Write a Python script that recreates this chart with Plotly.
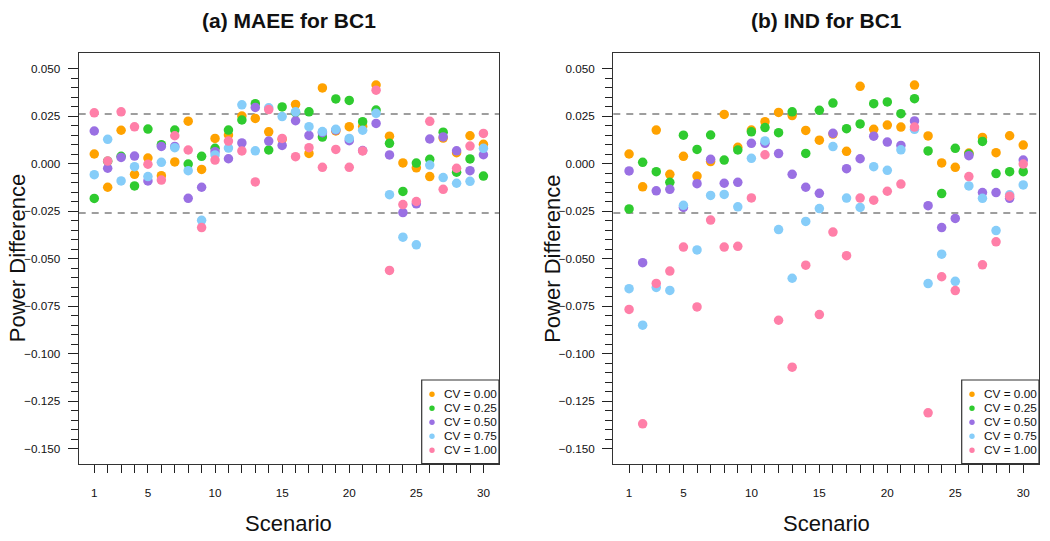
import plotly.graph_objects as go

# ---------------- data ----------------
scenarios = list(range(1, 31))
cv_labels = ["CV = 0.00", "CV = 0.25", "CV = 0.50", "CV = 0.75", "CV = 1.00"]
cv_colors = ["#FFA200", "#2FCB2F", "#9A70E3", "#86CDF9", "#FF7FA8"]

# (a) MAEE for BC1
maee_cv000 = [0.0050, -0.0125, 0.0175, -0.0057, 0.0029, -0.0064, 0.0008, 0.0223, -0.0031, 0.0132,
              0.0150, 0.0250, 0.0237, 0.0167, 0.0127, 0.0311, 0.0053, 0.0398, 0.0171, 0.0194,
              0.0195, 0.0413, 0.0144, 0.0003, -0.0023, -0.0069, 0.0134, 0.0057, 0.0146, 0.0101]
maee_cv025 = [-0.0184, 0.0012, 0.0038, -0.0118, 0.0181, 0.0099, 0.0176, -0.0003, 0.0038, 0.0080,
              0.0176, 0.0229, 0.0315, 0.0071, 0.0298, 0.0268, 0.0272, 0.0139, 0.0340, 0.0332,
              0.0220, 0.0281, 0.0106, -0.0147, 0.0002, 0.0022, 0.0165, -0.0046, 0.0024, -0.0066]
maee_cv050 = [0.0171, -0.0025, 0.0032, 0.0039, -0.0092, 0.0090, 0.0090, -0.0183, -0.0125, 0.0062,
              0.0025, 0.0108, 0.0295, 0.0118, 0.0095, 0.0225, 0.0148, 0.0162, 0.0176, 0.0120,
              0.0068, 0.0211, 0.0045, -0.0258, -0.0212, 0.0129, 0.0140, 0.0067, -0.0038, 0.0046]
maee_cv075 = [-0.0059, 0.0127, -0.0092, -0.0017, -0.0069, 0.0006, 0.0083, -0.0038, -0.0299, 0.0045,
              0.0081, 0.0309, 0.0067, 0.0293, 0.0247, 0.0272, 0.0194, 0.0168, 0.0180, 0.0132,
              0.0175, 0.0264, -0.0164, -0.0388, -0.0428, -0.0008, -0.0074, -0.0104, -0.0094, 0.0080]
maee_cv100 = [0.0267, 0.0013, 0.0272, 0.0193, -0.0004, -0.0087, 0.0146, 0.0071, -0.0337, 0.0018,
              0.0118, 0.0066, -0.0097, 0.0284, 0.0132, 0.0036, 0.0083, -0.0020, 0.0074, -0.0020,
              0.0066, 0.0386, -0.0563, -0.0216, -0.0200, 0.0222, -0.0136, -0.0025, 0.0092, 0.0158]

# (b) IND for BC1
ind_cv000 = [0.0050, -0.0123, 0.0176, -0.0057, 0.0038, -0.0066, 0.0010, 0.0258, 0.0085, 0.0176,
             0.0220, 0.0269, 0.0252, 0.0174, 0.0123, 0.0155, 0.0064, 0.0406, 0.0180, 0.0202,
             0.0192, 0.0413, 0.0145, 0.0003, -0.0020, 0.0055, 0.0137, 0.0057, 0.0146, 0.0097]
ind_cv025 = [-0.0239, 0.0006, -0.0043, -0.0099, 0.0149, 0.0074, 0.0150, 0.0018, 0.0071, 0.0167,
             0.0189, 0.0162, 0.0272, 0.0053, 0.0280, 0.0318, 0.0183, 0.0208, 0.0315, 0.0324,
             0.0262, 0.0341, 0.0066, -0.0158, 0.0080, 0.0050, 0.0116, -0.0053, -0.0043, -0.0043]
ind_cv050 = [-0.0039, -0.0522, -0.0144, -0.0136, -0.0231, -0.0106, 0.0022, -0.0104, -0.0099, 0.0106,
             0.0106, 0.0052, -0.0057, -0.0125, -0.0157, 0.0159, -0.0027, 0.0025, 0.0144, 0.0113,
             0.0095, 0.0224, -0.0222, -0.0337, -0.0289, 0.0041, -0.0153, -0.0153, -0.0183, 0.0018]
ind_cv075 = [-0.0659, -0.0851, -0.0652, -0.0668, -0.0220, -0.0455, -0.0168, -0.0163, -0.0228, 0.0027,
             0.0119, -0.0348, -0.0604, -0.0305, -0.0237, 0.0089, -0.0182, -0.0231, -0.0017, -0.0036,
             0.0072, 0.0180, -0.0632, -0.0477, -0.0620, -0.0118, -0.0183, -0.0353, -0.0165, -0.0113]
ind_cv100 = [-0.0768, -0.1370, -0.0631, -0.0566, -0.0440, -0.0755, -0.0298, -0.0440, -0.0436, -0.0181,
             0.0046, -0.0825, -0.1072, -0.0535, -0.0795, -0.0361, -0.0485, -0.0182, -0.0193, -0.0146,
             -0.0108, 0.0192, -0.1312, -0.0596, -0.0669, -0.0069, -0.0533, -0.0412, -0.0172, -0.0003]

panel_titles = ["(a) MAEE for BC1", "(b) IND for BC1"]
x_title = "Scenario"
y_title = "Power Difference"
ref_line = 0.026
x_labelled = [1, 5, 10, 15, 20, 25, 30]
y_major = [-0.150, -0.125, -0.100, -0.075, -0.050, -0.025, 0.000, 0.025, 0.050]
y_major_text = ["\u22120.150", "\u22120.125", "\u22120.100", "\u22120.075", "\u22120.050",
                "\u22120.025", "0.000", "0.025", "0.050"]
y_minor = [round(-0.150 + 0.005 * i, 3) for i in range(41)]
y_limits = [-0.150, 0.050]
x_limits = [1, 30]

panels = [
    [maee_cv000, maee_cv025, maee_cv050, maee_cv075, maee_cv100],
    [ind_cv000, ind_cv025, ind_cv050, ind_cv075, ind_cv100],
]

# ---------------- layout geometry (pixels) ----------------
W, H = 1050, 541
FONT = "Liberation Sans, Arial, Helvetica, sans-serif"
box_x = [(78.7, 499.0), (613.3, 1039.0)]
box_top, box_bot = 53.3, 463.7


def pxx(p):
    return p / W


def pxy(p):
    return 1 - p / H


def ext(lim):
    d = (lim[1] - lim[0]) * 0.04
    return [lim[0] - d, lim[1] + d]


fig = go.Figure()
for pi, series in enumerate(panels):
    xa = "x" if pi == 0 else "x2"
    ya = "y" if pi == 0 else "y2"
    for label, color, vals in zip(cv_labels, cv_colors, series):
        fig.add_trace(go.Scatter(
            x=scenarios, y=vals, mode="markers", name=label,
            marker=dict(size=9.5, color=color, line=dict(width=0)),
            xaxis=xa, yaxis=ya, showlegend=False,
        ))

axis_common = dict(showgrid=False, zeroline=False, showline=True, linecolor="#333333",
                   linewidth=1.2, mirror=True, ticks="outside", tickcolor="#222222",
                   tickwidth=1.3, tickfont=dict(family=FONT, size=11.7, color="#111111"))

layout = dict(
    width=W, height=H, margin=dict(l=0, r=0, t=0, b=0),
    paper_bgcolor="white", plot_bgcolor="white", showlegend=False,
    font=dict(family=FONT, color="#111111"),
)

shapes = []
annotations = []
for pi in range(2):
    sfx = "" if pi == 0 else "2"
    x0, x1 = box_x[pi]
    layout["xaxis" + sfx] = dict(
        axis_common, domain=[pxx(x0), pxx(x1)], range=ext(x_limits),
        tickvals=scenarios,
        ticktext=[str(s) if s in x_labelled else "" for s in scenarios],
        ticklen=8, ticklabelstandoff=10, anchor="y" + sfx,
    )
    layout["yaxis" + sfx] = dict(
        axis_common, domain=[pxy(box_bot), pxy(box_top)], range=ext(y_limits),
        tickvals=y_major, ticktext=y_major_text, ticklen=10, ticklabelstandoff=5,
        minor=dict(tickvals=y_minor, ticklen=7, ticks="outside", tickcolor="#222222",
                   tickwidth=1.3, showgrid=False),
        anchor="x" + sfx,
    )
    # dashed reference lines
    for yv in (ref_line, -ref_line):
        shapes.append(dict(type="line", xref="x%s domain" % sfx, yref="y" + sfx,
                           x0=0, x1=1, y0=yv, y1=yv, layer="below",
                           line=dict(color="#9E9E9E", width=2, dash="7px,6px")))
    # titles
    cx = (x0 + x1) / 2
    annotations.append(dict(text="<b>%s</b>" % panel_titles[pi], x=pxx(cx), y=pxy(20),
                            xref="paper", yref="paper", showarrow=False,
                            xanchor="center", yanchor="middle",
                            font=dict(family=FONT, size=21, color="#111111")))
    annotations.append(dict(text=x_title, x=pxx(cx), y=pxy(523), xref="paper", yref="paper",
                            showarrow=False, xanchor="center", yanchor="middle",
                            font=dict(family=FONT, size=22, color="#111111")))
    annotations.append(dict(text=y_title, x=pxx(x0 - 61), y=pxy((box_top + box_bot) / 2),
                            xref="paper", yref="paper", showarrow=False, textangle=-90,
                            xanchor="center", yanchor="middle",
                            font=dict(family=FONT, size=22, color="#111111")))
    # legend box
    lx0 = x1 - 77.3
    shapes.append(dict(type="rect", xref="paper", yref="paper",
                       x0=pxx(lx0), x1=pxx(x1), y0=pxy(box_bot), y1=pxy(380),
                       line=dict(color="#333333", width=1.2), fillcolor="white", layer="above"))
    for k, (label, color) in enumerate(zip(cv_labels, cv_colors)):
        cy = 394.3 + 14 * k
        r = 2.7
        shapes.append(dict(type="circle", xref="paper", yref="paper",
                           x0=pxx(lx0 + 10.3 - r), x1=pxx(lx0 + 10.3 + r),
                           y0=pxy(cy + r), y1=pxy(cy - r),
                           line=dict(width=0), fillcolor=color, layer="above"))
        annotations.append(dict(text=label, x=pxx(lx0 + 20.5), y=pxy(cy), xref="paper",
                                yref="paper", showarrow=False, xanchor="left",
                                yanchor="middle",
                                font=dict(family=FONT, size=11.8, color="#111111")))

layout["shapes"] = shapes
layout["annotations"] = annotations
fig.update_layout(**layout)

fig.write_html("out.html", config={"displayModeBar": False},
               post_script="document.body.style.margin='0';")
